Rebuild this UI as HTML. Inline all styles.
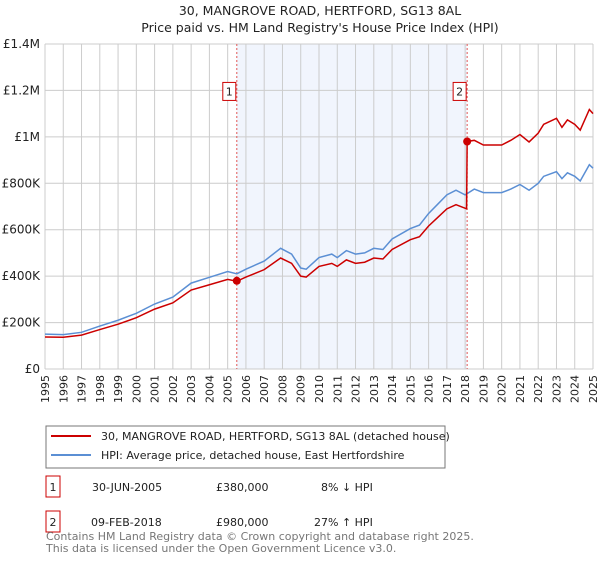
<!DOCTYPE html>
<html><head><meta charset="utf-8"><style>
body{margin:0;background:#fff;font-family:"Liberation Sans","DejaVu Sans",sans-serif}
svg text{font-family:"DejaVu Sans","Liberation Sans",sans-serif}
</style></head><body>
<svg id="c" width="600" height="560" xmlns="http://www.w3.org/2000/svg">
<text x="320" y="15" text-anchor="middle" font-size="12.5" fill="#222">30, MANGROVE ROAD, HERTFORD, SG13 8AL</text>
<text x="320" y="32" text-anchor="middle" font-size="12.5" fill="#222">Price paid vs. HM Land Registry's House Price Index (HPI)</text>
<g id="plot"></g>
<g>
<rect x="46" y="426" width="399" height="42" fill="#fff" stroke="#777"/>
<line x1="51" y1="436" x2="91" y2="436" stroke="#cc0000" stroke-width="2"/>
<text x="101" y="440" font-size="11" fill="#222">30, MANGROVE ROAD, HERTFORD, SG13 8AL (detached house)</text>
<line x1="51" y1="455" x2="91" y2="455" stroke="#5b8fd4" stroke-width="2"/>
<text x="101" y="459" font-size="11" fill="#222">HPI: Average price, detached house, East Hertfordshire</text>
</g>
<g font-size="11" fill="#222">
<rect x="46" y="476" width="14" height="21" fill="#fff" stroke="#cc0000"/>
<text x="53" y="491" text-anchor="middle">1</text>
<text x="92" y="491">30-JUN-2005</text><text x="216" y="491">£380,000</text><text x="321" y="491">8% ↓ HPI</text>
<rect x="46" y="511" width="14" height="21" fill="#fff" stroke="#cc0000"/>
<text x="53" y="526" text-anchor="middle">2</text>
<text x="91" y="526">09-FEB-2018</text><text x="216" y="526">£980,000</text><text x="314" y="526">27% ↑ HPI</text>
</g>
<text x="46" y="540" font-size="11" fill="#777">Contains HM Land Registry data © Crown copyright and database right 2025.</text>
<text x="46" y="552" font-size="11" fill="#777">This data is licensed under the Open Government Licence v3.0.</text>
</svg>
<script>
const hpiDates=[1995,1996,1997,1998,1999,2000,2001,2002,2003,2004,2005,2005.5,2006,2007,2007.9,2008.5,2009.0,2009.3,2010,2010.7,2011,2011.5,2012,2012.5,2013,2013.5,2014,2015,2015.5,2016,2016.5,2017,2017.5,2018,2018.5,2019,2020,2020.5,2021,2021.5,2022,2022.3,2023,2023.3,2023.6,2024,2024.3,2024.8,2025];
const hpiValues=[150,148,158,185,210,240,280,310,370,395,420,410,430,465,520,495,435,430,480,495,480,510,495,500,520,515,560,605,620,670,710,750,770,750,775,760,760,775,795,770,800,830,850,820,845,830,810,880,865];
const priceDates=[1995,1996,1997,1998,1999,2000,2001,2002,2003,2004,2005,2005.5,2006,2007,2007.9,2008.5,2009.0,2009.3,2010,2010.7,2011,2011.5,2012,2012.5,2013,2013.5,2014,2015,2015.5,2016,2016.5,2017,2017.5,2018.08,2018.11,2018.5,2019,2020,2020.5,2021,2021.5,2022,2022.3,2023,2023.3,2023.6,2024,2024.3,2024.8,2025];
const priceValues=[138,137,146,170,193,221,258,285,340,363,386,378,396,428,478,455,400,396,442,455,442,470,455,460,478,474,515,557,570,616,653,690,708,690,980,985,965,965,985,1010,978,1016,1054,1080,1041,1073,1054,1029,1118,1100];
const saleDates=[2005.5,2018.11];
const saleValues=[380,980];
const saleLabels=["1","2"];
const yTicks=[0,200,400,600,800,1000,1200,1400];
const yTickLabels=["£0","£200K","£400K","£600K","£800K","£1M","£1.2M","£1.4M"];
const xYears=[1995,1996,1997,1998,1999,2000,2001,2002,2003,2004,2005,2006,2007,2008,2009,2010,2011,2012,2013,2014,2015,2016,2017,2018,2019,2020,2021,2022,2023,2024,2025];

const L=45,R=593,T=44,B=369;
const x=t=>L+(t-1995)/30*(R-L);
const y=v=>B-v/1400*(B-T);
const g=document.getElementById('plot');
const NS='http://www.w3.org/2000/svg';
function mk(tag,a){const e=document.createElementNS(NS,tag);for(const k in a)e.setAttribute(k,a[k]);g.appendChild(e);return e;}
let sh=mk('rect',{x:x(saleDates[0]),y:T,width:x(saleDates[1])-x(saleDates[0]),height:B-T,fill:'#eef3fc',opacity:0.8});


xYears.forEach(t=>{const l=mk('line',{x1:x(t),x2:x(t),y1:T,y2:B,stroke:'#ccc','stroke-width':1});


const tx=mk('text',{x:0,y:0,'font-size':11,fill:'#222','text-anchor':'end',transform:`translate(${x(t)+4},${B+6}) rotate(-90)`});tx.textContent=t;

});
yTicks.forEach((v,i)=>{const l=mk('line',{x1:L,x2:R,y1:y(v),y2:y(v),stroke:'#ccc','stroke-width':1});


const tx=mk('text',{x:L-5,y:y(v)+4,'font-size':12,fill:'#222','text-anchor':'end'});tx.textContent=yTickLabels[i];

});
saleDates.forEach((d,i)=>{const l=mk('line',{x1:x(d),x2:x(d),y1:T,y2:B,stroke:'#e05555','stroke-width':1,'stroke-dasharray':'2,2'});


const r=mk('rect',{x:x(d)-14,y:y(1200)-8,width:13,height:18,fill:'#fff',stroke:'#cc0000'});


const tx=mk('text',{x:x(d)-7.5,y:y(1200)+5,'font-size':11,fill:'#222','text-anchor':'middle'});tx.textContent=saleLabels[i];

});
const hp=mk('polyline',{points:hpiDates.map((d,i)=>x(d)+','+y(hpiValues[i])).join(' '),fill:'none',stroke:'#5b8fd4','stroke-width':1.5});


const pp=mk('polyline',{points:priceDates.map((d,i)=>x(d)+','+y(priceValues[i])).join(' '),fill:'none',stroke:'#cc0000','stroke-width':1.5});


saleDates.forEach((d,i)=>{const c=mk('circle',{cx:x(d),cy:y(saleValues[i]),r:4,fill:'#cc0000'});

});
</script>
</body></html>
